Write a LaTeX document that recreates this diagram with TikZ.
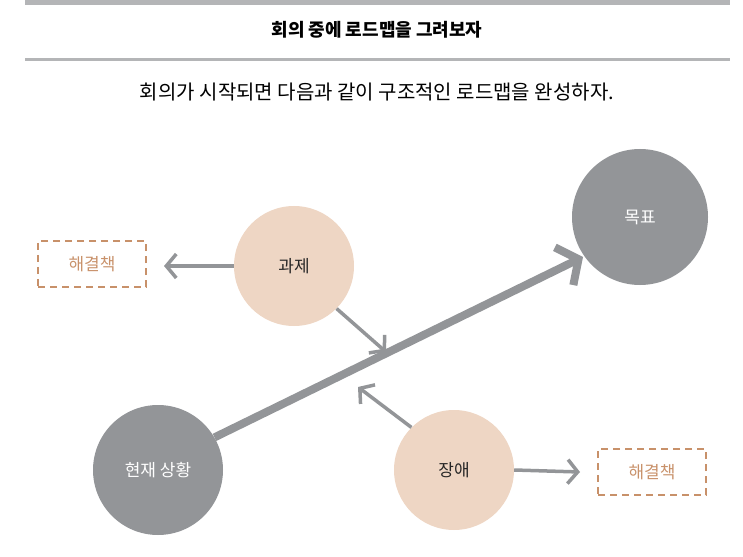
\documentclass[tikz,border=0pt]{standalone}
\usepackage{fontspec}
\setmainfont{Noto Sans CJK KR}
\usetikzlibrary{arrows.meta}
\definecolor{gr}{HTML}{939598}
\definecolor{pe}{HTML}{EED6C4}
\definecolor{og}{HTML}{C8916A}
\begin{document}
\begin{tikzpicture}[x=1bp,y=-1bp,
 dark/.style={circle,fill=gr,text=white,font=\fontsize{17bp}{20bp}\selectfont},
 light/.style={circle,fill=pe,text=black!85,font=\fontsize{17bp}{20bp}\selectfont},
 box/.style={draw=og,dashed,line width=2.5bp,dash pattern=on 7bp off 5bp,minimum width=108bp,minimum height=46bp,text=og,font=\fontsize{17bp}{20bp}\selectfont},
 small/.style={draw=gr,line width=3.5bp,-{Straight Barb[length=10bp,width=24bp]}},
 big/.style={draw=gr,line width=8bp,-{Straight Barb[length=16bp,width=42bp]}}]
\useasboundingbox (0,0) rectangle (743,557);
\fill[gr!70] (25,0) rectangle (730,5);
\draw[gr!70,line width=3bp] (25,60) -- (730,60);
\node (t) at (377,30) {\fontsize{18bp}{22bp}\selectfont\bfseries 회의 중에 로드맵을 그려보자};
\node (s) at (377,92) {\fontsize{20bp}{24bp}\selectfont 회의가 시작되면 다음과 같이 구조적인 로드맵을 완성하자.};
\node[dark,minimum size=136bp] (goal) at (640,217) {목표};
\node[dark,minimum size=130bp] (cur) at (158,470) {현재 상황};
\node[light,minimum size=120bp] (task) at (294,266) {과제};
\node[light,minimum size=120bp] (obs) at (454,470) {장애};
\node[box] (b1) at (92,264) {해결책};
\node[box] (b2) at (652,472) {해결책};
\coordinate (p1) at (386,352);
\coordinate (p2) at (358,387);
\coordinate (ge) at (583,257);
\coordinate (l1) at (164,266);
\coordinate (r1) at (580,472);
\draw[big] (cur.30) -- (ge);
\draw[small] (task.west) -- (l1);
\draw[small] (task.-45) -- (p1);
\draw[small] (obs.135) -- (p2);
\draw[small] (obs.east) -- (r1);
\end{tikzpicture}
\end{document}
